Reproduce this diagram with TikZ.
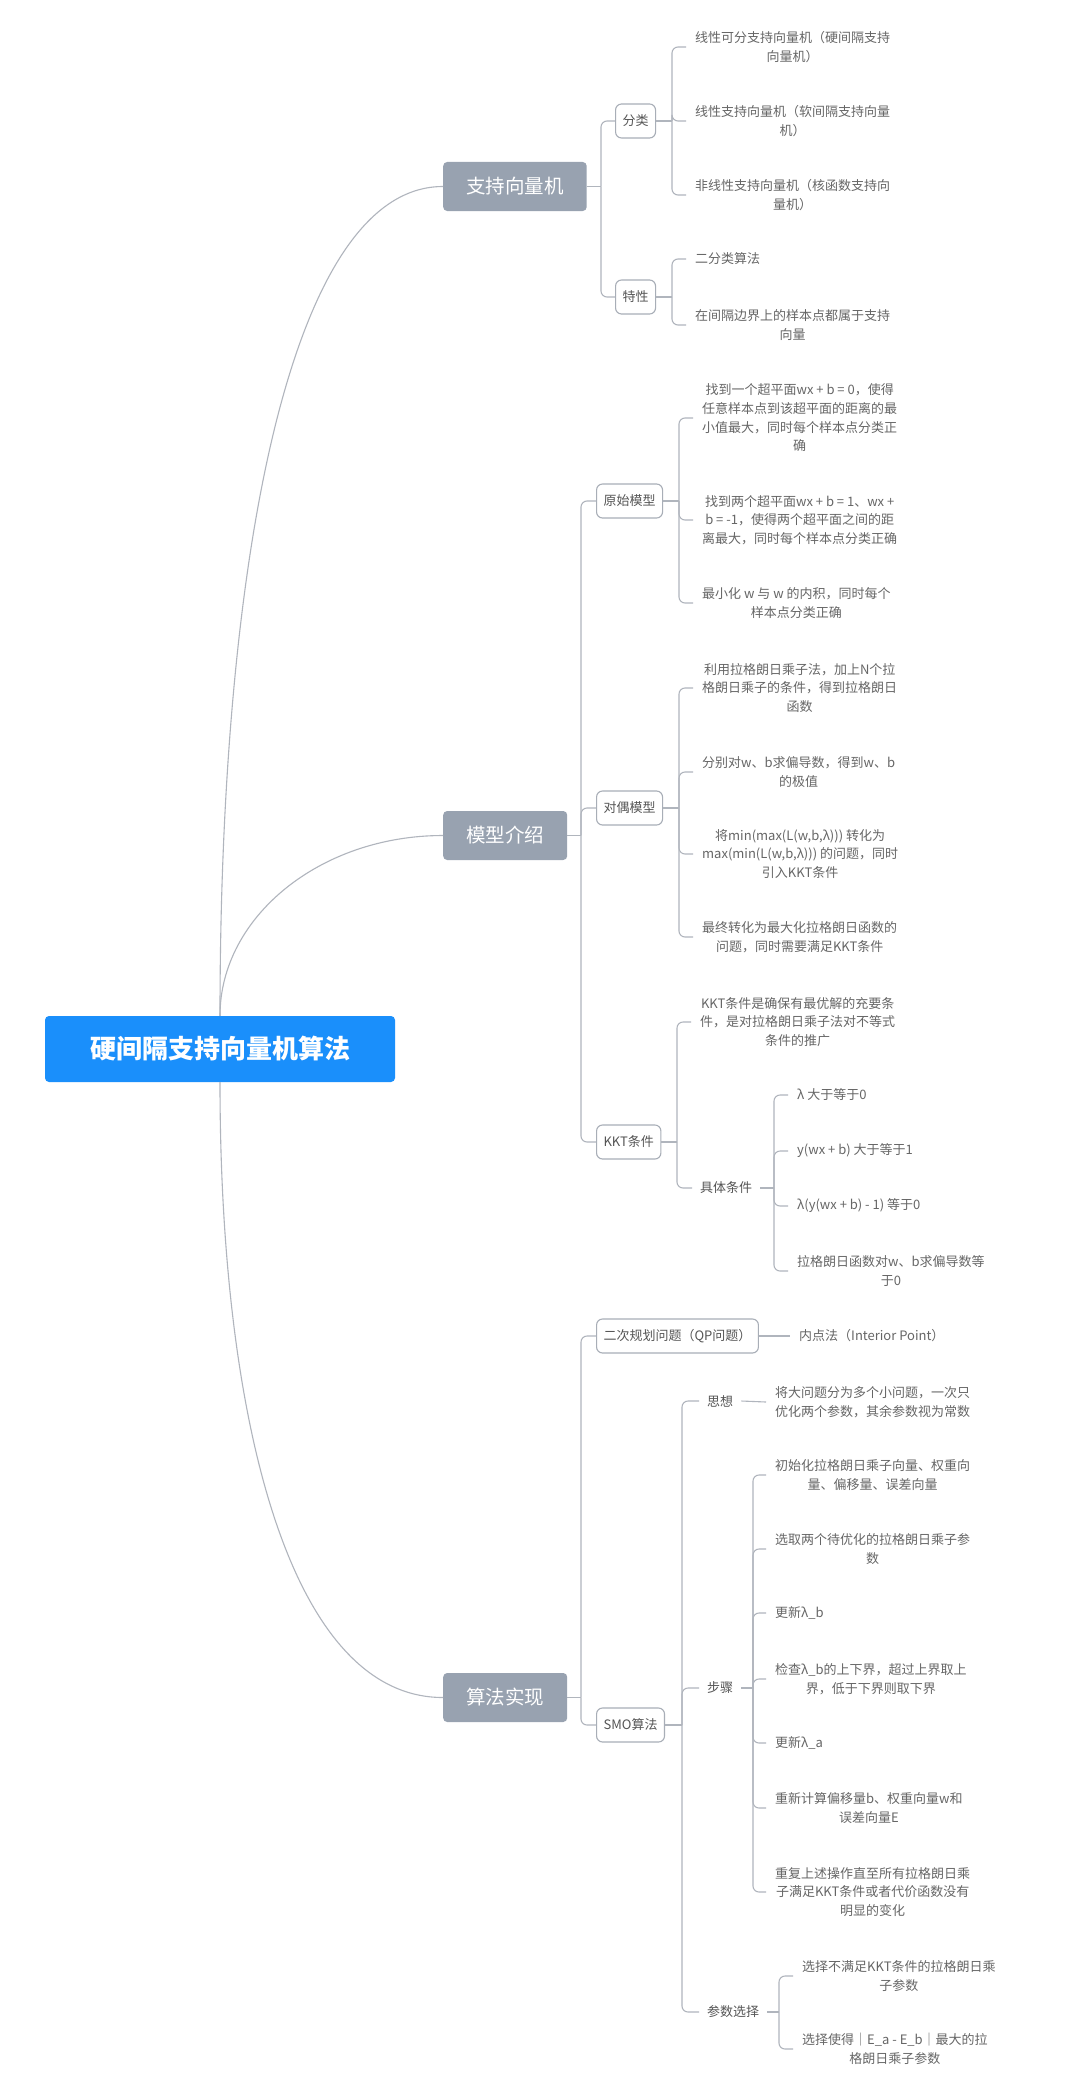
\documentclass[tikz,border=0pt]{standalone}
\usepackage{fontspec}
\setmainfont{Noto Sans CJK SC}
\definecolor{rootblue}{HTML}{1A8FFB}
\definecolor{maingrey}{HTML}{98A2B0}
\definecolor{linec}{HTML}{B0B5BD}
\definecolor{boxline}{HTML}{A8AEB7}
\definecolor{txtdark}{HTML}{555555}
\definecolor{txtgrey}{HTML}{666666}
\tikzset{
  conn/.style={draw=linec, line width=1.1pt},
  trunk/.style={draw=linec, line width=1.1pt, rounded corners=6pt},
  rootbox/.style={fill=rootblue, text=white, rounded corners=4pt, minimum width=350pt, minimum height=66pt, inner sep=0pt, font=\fontsize{26}{30}\selectfont\bfseries},
  mainbox/.style={fill=maingrey, text=white, rounded corners=4pt, minimum height=49pt, inner xsep=23pt, inner ysep=0pt, font=\fontsize{19.5}{24}\selectfont},
  subbox/.style={draw=boxline, line width=1.1pt, fill=white, rounded corners=6pt, minimum height=34pt, inner xsep=7pt, inner ysep=0pt, text=txtdark, font=\fontsize{13}{16}\selectfont},
  leaf/.style={anchor=west, align=center, text=txtgrey, inner xsep=9pt, inner ysep=2pt, font=\fontsize{13}{18.7}\selectfont},
  midlabel/.style={anchor=west, text=txtdark, inner xsep=8pt, inner ysep=2pt, font=\fontsize{13}{16}\selectfont}
}
\begin{document}
\begin{tikzpicture}[x=1pt,y=-1pt]
\useasboundingbox[fill=white] (0,0) rectangle (1080,2095);

% root and main branches
\node[rootbox] (root) at (220,1049) {硬间隔支持向量机算法};
\node[mainbox, anchor=west] (svm) at (443,186.5) {支持向量机};
\node[mainbox, anchor=west] (model) at (443,835.5) {模型介绍};
\node[mainbox, anchor=west] (algo) at (443,1697.5) {算法实现};

\draw[conn] (root.north) .. controls (220,560) and (290,186.5) .. (svm.west);
\draw[conn] (root.north) .. controls (220,917) and (320,835.5) .. (model.west);
\draw[conn] (root.south) .. controls (220,1421) and (290,1697.5) .. (algo.west);

% ---------- 支持向量机 ----------
\node[subbox, anchor=west] (fenlei) at (615,121) {分类};
\node[subbox, anchor=west] (texing) at (615,297) {特性};
\coordinate (tsvm) at (601,0);
\draw[conn] (svm.east) -- (svm.east -| tsvm);
\draw[trunk] (svm.east -| tsvm) |- (fenlei.west);
\draw[trunk] (svm.east -| tsvm) |- (texing.west);

\node[leaf] (f1) at (686,47) {线性可分支持向量机（硬间隔支持\\向量机）};
\node[leaf] (f2) at (686,121) {线性支持向量机（软间隔支持向量\\机）};
\node[leaf] (f3) at (686,195) {非线性支持向量机（核函数支持向\\量机）};
\coordinate (tfl) at (672,0);
\draw[conn] (fenlei.east) -- (fenlei.east -| tfl);
\draw[trunk] (fenlei.east -| tfl) |- (f1.west);
\draw[trunk] (fenlei.east -| tfl) |- (f2.west);
\draw[trunk] (fenlei.east -| tfl) |- (f3.west);

\node[leaf] (t1) at (686,259) {二分类算法};
\node[leaf] (t2) at (686,325) {在间隔边界上的样本点都属于支持\\向量};
\draw[conn] (texing.east) -- (texing.east -| tfl);
\draw[trunk] (texing.east -| tfl) |- (t1.west);
\draw[trunk] (texing.east -| tfl) |- (t2.west);

% ---------- 模型介绍 ----------
\node[subbox, anchor=west] (yuanshi) at (596,501) {原始模型};
\node[subbox, anchor=west] (duiou) at (596,808) {对偶模型};
\node[subbox, anchor=west] (kkt) at (596,1142) {KKT条件};
\coordinate (tmod) at (581,0);
\draw[conn] (model.east) -- (model.east -| tmod);
\draw[trunk] (model.east -| tmod) |- (yuanshi.west);
\draw[trunk] (model.east -| tmod) |- (duiou.west);
\draw[trunk] (model.east -| tmod) |- (kkt.west);

\coordinate (tys) at (679,0);
\node[leaf] (y1) at (693,418) {找到一个超平面wx + b = 0，使得\\任意样本点到该超平面的距离的最\\小值最大，同时每个样本点分类正\\确};
\node[leaf] (y2) at (693,520) {找到两个超平面wx + b = 1、wx +\\b = -1，使得两个超平面之间的距\\离最大，同时每个样本点分类正确};
\node[leaf] (y3) at (693,603) {最小化 w 与 w 的内积，同时每个\\样本点分类正确};
\draw[conn] (yuanshi.east) -- (yuanshi.east -| tys);
\draw[trunk] (yuanshi.east -| tys) |- (y1.west);
\draw[trunk] (yuanshi.east -| tys) |- (y2.west);
\draw[trunk] (yuanshi.east -| tys) |- (y3.west);

\node[leaf] (d1) at (693,688) {利用拉格朗日乘子法，加上N个拉\\格朗日乘子的条件，得到拉格朗日\\函数};
\node[leaf] (d2) at (693,772) {分别对w、b求偏导数，得到w、b\\的极值};
\node[leaf] (d3) at (693,854) {将min(max(L(w,b,λ))) 转化为\\max(min(L(w,b,λ))) 的问题，同时\\引入KKT条件};
\node[leaf] (d4) at (693,937) {最终转化为最大化拉格朗日函数的\\问题，同时需要满足KKT条件};
\draw[conn] (duiou.east) -- (duiou.east -| tys);
\draw[trunk] (duiou.east -| tys) |- (d1.west);
\draw[trunk] (duiou.east -| tys) |- (d2.west);
\draw[trunk] (duiou.east -| tys) |- (d3.west);
\draw[trunk] (duiou.east -| tys) |- (d4.west);

\coordinate (tkkt) at (677,0);
\node[leaf] (k1) at (691,1022) {KKT条件是确保有最优解的充要条\\件，是对拉格朗日乘子法对不等式\\条件的推广};
\node[midlabel] (jtj) at (692,1188) {具体条件};
\draw[conn] (kkt.east) -- (kkt.east -| tkkt);
\draw[trunk] (kkt.east -| tkkt) |- (k1.west);
\draw[trunk] (kkt.east -| tkkt) |- (jtj.west);

\coordinate (tjt) at (774,0);
\node[leaf] (j1) at (788,1095) {λ 大于等于0};
\node[leaf] (j2) at (788,1151) {y(wx + b) 大于等于1};
\node[leaf] (j3) at (788,1206) {λ(y(wx + b) - 1) 等于0};
\node[leaf] (j4) at (788,1271) {拉格朗日函数对w、b求偏导数等\\于0};
\draw[conn] (jtj.east) -- (jtj.east -| tjt);
\draw[trunk] (jtj.east -| tjt) |- (j1.west);
\draw[trunk] (jtj.east -| tjt) |- (j2.west);
\draw[trunk] (jtj.east -| tjt) |- (j3.west);
\draw[trunk] (jtj.east -| tjt) |- (j4.west);

% ---------- 算法实现 ----------
\node[subbox, anchor=west] (qp) at (596,1336) {二次规划问题（QP问题）};
\node[subbox, anchor=west] (smo) at (596,1725) {SMO算法};
\draw[conn] (algo.east) -- (algo.east -| tmod);
\draw[trunk] (algo.east -| tmod) |- (qp.west);
\draw[trunk] (algo.east -| tmod) |- (smo.west);

\node[leaf] (nd) at (790,1336) {内点法（Interior Point）};
\draw[conn] (qp.east) -- (nd.west);

\coordinate (tsmo) at (682,0);
\node[midlabel] (sx) at (699,1401) {思想};
\node[midlabel] (bz) at (699,1688) {步骤};
\node[midlabel] (cs) at (699,2012) {参数选择};
\draw[conn] (smo.east) -- (smo.east -| tsmo);
\draw[trunk] (smo.east -| tsmo) |- (sx.west);
\draw[trunk] (smo.east -| tsmo) |- (bz.west);
\draw[trunk] (smo.east -| tsmo) |- (cs.west);

\node[leaf] (sx1) at (766,1402) {将大问题分为多个小问题，一次只\\优化两个参数，其余参数视为常数};
\draw[conn] (sx.east) -- (sx1.west);

\coordinate (tbz) at (753,0);
\node[leaf] (b1) at (766,1475) {初始化拉格朗日乘子向量、权重向\\量、偏移量、误差向量};
\node[leaf] (b2) at (766,1549) {选取两个待优化的拉格朗日乘子参\\数};
\node[leaf] (b3) at (766,1613) {更新λ\_b};
\node[leaf] (b4) at (766,1679) {检查λ\_b的上下界，超过上界取上\\界，低于下界则取下界};
\node[leaf] (b5) at (766,1743) {更新λ\_a};
\node[leaf] (b6) at (766,1808) {重新计算偏移量b、权重向量w和\\误差向量E};
\node[leaf] (b7) at (766,1892) {重复上述操作直至所有拉格朗日乘\\子满足KKT条件或者代价函数没有\\明显的变化};
\draw[conn] (bz.east) -- (bz.east -| tbz);
\foreach \n in {b1,b2,b3,b4,b5,b6,b7} {
  \draw[trunk] (bz.east -| tbz) |- (\n.west);
}

\coordinate (tcs) at (779,0);
\node[leaf] (c1) at (793,1976) {选择不满足KKT条件的拉格朗日乘\\子参数};
\node[leaf] (c2) at (793,2049) {选择使得｜E\_a - E\_b｜最大的拉\\格朗日乘子参数};
\draw[conn] (cs.east) -- (cs.east -| tcs);
\draw[trunk] (cs.east -| tcs) |- (c1.west);
\draw[trunk] (cs.east -| tcs) |- (c2.west);
\end{tikzpicture}
\end{document}
